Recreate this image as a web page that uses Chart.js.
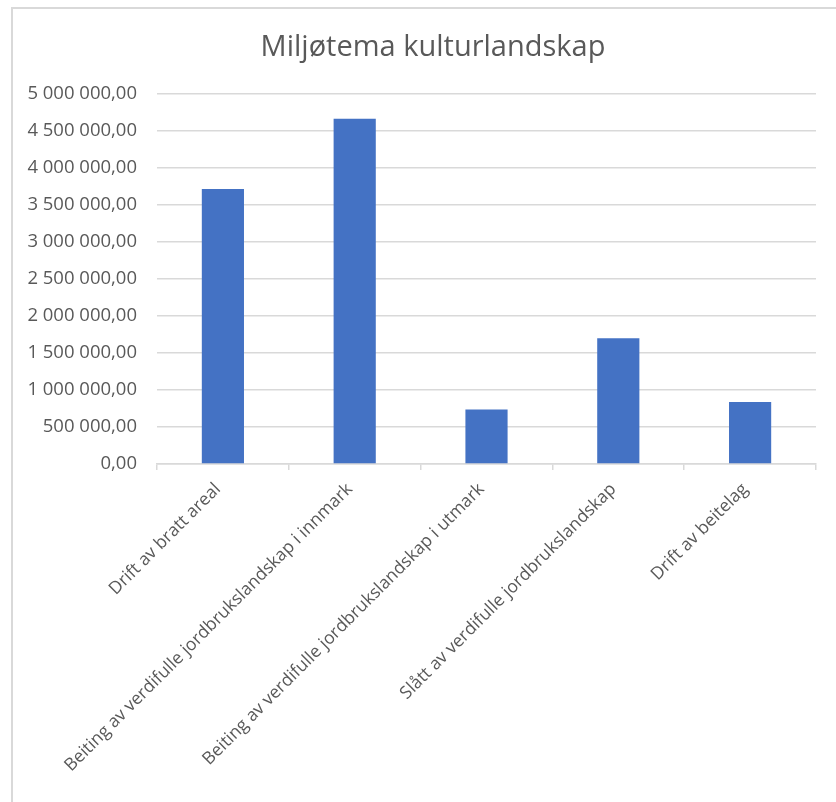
<!DOCTYPE html>
<html>
<head>
<meta charset="utf-8">
<script src="https://cdn.jsdelivr.net/npm/chart.js@4"></script>
<style>
  html, body { margin: 0; padding: 0; background: #fff; }
  #wrap { position: relative; width: 836px; height: 802px; overflow: hidden; }
  #frame { position: absolute; left: 11px; top: 7px; width: 900px; height: 900px;
           border-left: 2px solid #d9d9d9; border-top: 2px solid #d9d9d9; }
  canvas { position: absolute; left: 0; top: 0; }
</style>
</head>
<body>
<div id="wrap">
  <div id="frame"></div>
  <canvas id="chart" width="836" height="802"></canvas>
</div>
<script>
// --- data ---
const chartTitle = 'Miljøtema kulturlandskap';
const categories = [
    'Drift av bratt areal',
    'Beiting av verdifulle jordbrukslandskap i innmark',
    'Beiting av verdifulle jordbrukslandskap i utmark',
    'Slått av verdifulle jordbrukslandskap',
    'Drift av beitelag'
];
const amounts = [3715000, 4665000, 735000, 1698000, 838000];
const yTicks = [0, 500000, 1000000, 1500000, 2000000, 2500000, 3000000, 3500000, 4000000, 4500000, 5000000];

const GREY_TEXT = '#595959';
const GRID = '#d9d9d9';
const FONT = "'Open Sans', sans-serif";

// 5000000 -> "5 000 000,00"
function nok(v) {
    const parts = Number(v).toFixed(2).split('.');
    return parts[0].replace(/\B(?=(\d{3})+(?!\d))/g, ' ') + ',' + parts[1];
}

// Excel centres the title over the whole chart frame, not the plot box
const frameTitle = {
    id: 'frameTitle',
    afterDraw(chart) {
        const c = chart.ctx;
        c.save();
        c.font = "29px " + FONT;
        c.fillStyle = GREY_TEXT;
        c.textAlign = 'center';
        c.textBaseline = 'middle';
        c.fillText(chartTitle, 433, 48);
        c.restore();
    }
};

new Chart(document.getElementById('chart'), {
    type: 'bar',
    data: {
        labels: categories,
        datasets: [{
            data: amounts,
            backgroundColor: '#4472c4',
            borderWidth: 0,
            categoryPercentage: 1,
            barPercentage: 0.32
        }]
    },
    options: {
        responsive: false,
        animation: false,
        layout: { padding: { top: 94, right: 20, bottom: 0, left: 0 } },
        plugins: {
            legend: { display: false },
            tooltip: { enabled: false },
            title: { display: false }
        },
        scales: {
            y: {
                min: 0,
                max: 5000000,
                afterBuildTicks: scale => { scale.ticks = yTicks.map(v => ({ value: v })); },
                afterFit: scale => { scale.width = 157; },
                border: { display: false },
                grid: { color: GRID, lineWidth: 1.5, drawTicks: false },
                ticks: {
                    color: GREY_TEXT,
                    padding: 20,
                    font: { family: FONT, size: 18.5 },
                    callback: v => nok(v)
                }
            },
            x: {
                afterFit: scale => { scale.height = 338; },
                border: { color: GRID, width: 1.5 },
                grid: { drawOnChartArea: false, drawTicks: true, tickLength: 6, color: GRID, lineWidth: 1.5 },
                ticks: {
                    color: GREY_TEXT,
                    autoSkip: false,
                    minRotation: 45,
                    maxRotation: 45,
                    padding: 9,
                    labelOffset: -5,
                    font: { family: FONT, size: 17.5 }
                }
            }
        }
    },
    plugins: [frameTitle]
});
</script>
</body>
</html>
